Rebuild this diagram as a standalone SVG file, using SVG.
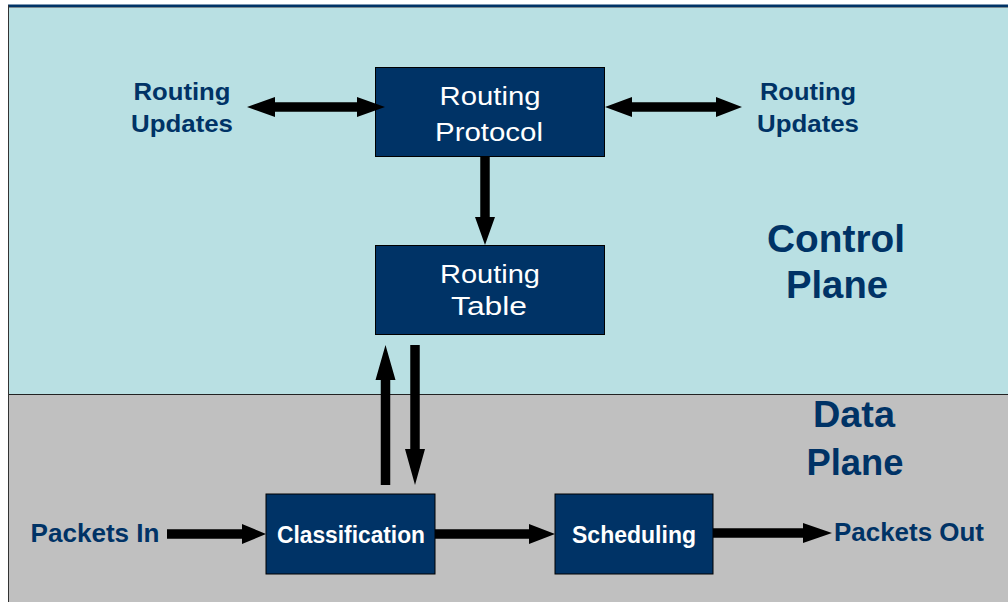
<svg xmlns="http://www.w3.org/2000/svg" width="1008" height="602" viewBox="0 0 1008 602">
<style>
.box{fill:#003366;stroke:#000;stroke-width:1}
.bt{fill:#fff;font-family:"Liberation Sans",Arial,sans-serif;text-anchor:middle}
.reg{font-size:26px}
.bold{font-size:23px;font-weight:bold}
.lbl{fill:#003366;font-family:"Liberation Sans",Arial,sans-serif;font-weight:bold;text-anchor:middle}
.arr{fill:#000}
</style>
<rect x="0" y="0" width="1008" height="602" fill="#ffffff"/>
<rect x="8" y="4.5" width="1000" height="2.5" fill="#003366"/>
<rect x="8" y="7" width="1000" height="1.2" fill="#7a8a90"/>
<rect x="8" y="8" width="1000" height="386" fill="#B9E0E3"/>
<rect x="8" y="394" width="1000" height="208" fill="#C0C0C0"/>
<line x1="8" y1="394.5" x2="1008" y2="394.5" stroke="#222" stroke-width="1"/>
<line x1="8.5" y1="5" x2="8.5" y2="602" stroke="#333" stroke-width="1"/>

<g id="label-updates-left">
<text class="lbl" x="182" y="100" font-size="24" textLength="97" lengthAdjust="spacingAndGlyphs">Routing</text>
<text class="lbl" x="182" y="132" font-size="24" textLength="102" lengthAdjust="spacingAndGlyphs">Updates</text>
</g>
<g id="label-updates-right">
<text class="lbl" x="808" y="100" font-size="24" textLength="96" lengthAdjust="spacingAndGlyphs">Routing</text>
<text class="lbl" x="808" y="132" font-size="24" textLength="102" lengthAdjust="spacingAndGlyphs">Updates</text>
</g>
<g id="label-control-plane">
<text class="lbl" x="836" y="252" font-size="39" textLength="138" lengthAdjust="spacingAndGlyphs">Control</text>
<text class="lbl" x="837" y="298" font-size="39" textLength="102" lengthAdjust="spacingAndGlyphs">Plane</text>
</g>
<g id="label-data-plane">
<text class="lbl" x="854" y="427" font-size="37" textLength="82" lengthAdjust="spacingAndGlyphs">Data</text>
<text class="lbl" x="855" y="475" font-size="37" textLength="97" lengthAdjust="spacingAndGlyphs">Plane</text>
</g>
<g id="label-packets-in">
<text class="lbl" x="95" y="542" font-size="26" textLength="129" lengthAdjust="spacingAndGlyphs">Packets In</text>
</g>
<g id="label-packets-out">
<text class="lbl" x="909" y="541" font-size="26" textLength="150" lengthAdjust="spacingAndGlyphs">Packets Out</text>
</g>

<g id="routing-protocol">
<rect class="box" x="375.5" y="67.5" width="229" height="89"/>
<text class="bt reg" x="490" y="105" textLength="101" lengthAdjust="spacingAndGlyphs">Routing</text>
<text class="bt reg" x="489" y="141" textLength="108" lengthAdjust="spacingAndGlyphs">Protocol</text>
</g>
<g id="routing-table">
<rect class="box" x="375.5" y="245.5" width="229" height="89"/>
<text class="bt reg" x="490" y="283" textLength="100" lengthAdjust="spacingAndGlyphs">Routing</text>
<text class="bt reg" x="489" y="315" textLength="76" lengthAdjust="spacingAndGlyphs">Table</text>
</g>
<g id="classification">
<rect class="box" x="266" y="494" width="169" height="80"/>
<text class="bt bold" x="351" y="543" textLength="148" lengthAdjust="spacingAndGlyphs">Classification</text>
</g>
<g id="scheduling">
<rect class="box" x="555" y="494" width="158" height="80"/>
<text class="bt bold" x="634" y="543" textLength="124" lengthAdjust="spacingAndGlyphs">Scheduling</text>
</g>

<g id="connectors">
<polygon class="arr" points="247,107 275,97 275,102.25 357,102.25 357,97 385,107 357,117 357,111.75 275,111.75 275,117"/>
<polygon class="arr" points="605,107 632,97 632,102.25 716,102.25 716,97 742,107 716,117 716,111.75 632,111.75 632,117"/>
<polygon class="arr" points="480.25,157 489.75,157 489.75,217 495,217 485,245 475,217 480.25,217"/>
<polygon class="arr" points="380.75,485 390.25,485 390.25,380 395.5,380 385.5,345 375.5,380 380.75,380"/>
<polygon class="arr" points="410.25,345 419.75,345 419.75,449 425,449 415,485 405,449 410.25,449"/>
<polygon class="arr" points="167,529.25 242,529.25 242,524 266,534 242,544 242,538.75 167,538.75"/>
<polygon class="arr" points="435,529.25 529,529.25 529,524 555,534 529,544 529,538.75 435,538.75"/>
<polygon class="arr" points="713,528.25 803,528.25 803,523 832,533 803,543 803,537.75 713,537.75"/>
</g>
</svg>
